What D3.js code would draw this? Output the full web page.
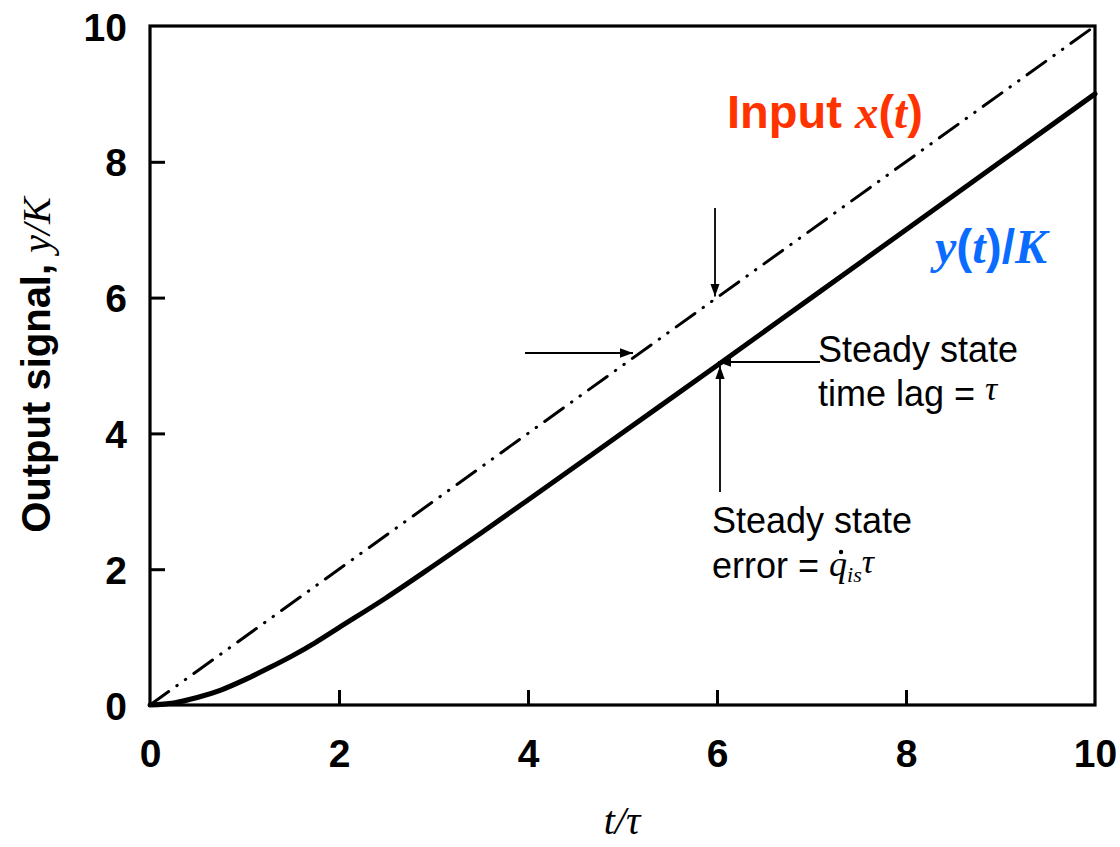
<!DOCTYPE html>
<html>
<head>
<meta charset="utf-8">
<script src="https://cdn.jsdelivr.net/npm/d3@7"></script>
<style>
  html, body { margin: 0; padding: 0; background: #fff; }
  svg { display: block; }
</style>
</head>
<body>
<svg id="chart" width="1120" height="847"></svg>
<script>
// Ramp response of a first-order system: normalised time t/tau
const timeValues = [0, 0.25, 0.5, 0.75, 1, 1.25, 1.5, 1.75, 2, 2.5, 3, 3.5, 4, 5, 6, 7, 8, 9, 10];
// Output y(t)/K
const outputValues = [0, 0.03, 0.11, 0.22, 0.37, 0.54, 0.72, 0.92, 1.14, 1.58, 2.05, 2.53, 3.02, 4.01, 5.0, 6.0, 7.0, 8.0, 9.0];
// Input ramp x(t)
const inputTimes = [0, 10];
const inputValues = [0, 10];
// Axis ticks
const xTickValues = [0, 2, 4, 6, 8, 10];
const yTickValues = [0, 2, 4, 6, 8, 10];

const svg = d3.select("#chart");
const margin = { left: 150, top: 26, right: 1120 - 1095, bottom: 847 - 705 };
const W = 1120, H = 847;

const x = d3.scaleLinear().domain([0, 10]).range([margin.left, W - margin.right]);
const y = d3.scaleLinear().domain([0, 10]).range([H - margin.bottom, margin.top]);

const tickFont = "'Liberation Sans', Arial, sans-serif";
const serif = "'Liberation Serif', 'Times New Roman', serif";

// Arrowhead marker
svg.append("defs").append("marker")
  .attr("id", "arrow")
  .attr("viewBox", "0 0 14 10")
  .attr("refX", 14).attr("refY", 5)
  .attr("markerWidth", 13).attr("markerHeight", 10)
  .attr("markerUnits", "userSpaceOnUse")
  .attr("orient", "auto")
  .append("path").attr("d", "M0,0 L14,5 L0,10 Z").attr("fill", "#000");

// Axes with inward ticks
const xAxis = d3.axisBottom(x).tickValues(xTickValues).tickSize(-15).tickPadding(0).tickFormat(d3.format("d"));
const yAxis = d3.axisLeft(y).tickValues(yTickValues).tickSize(-15).tickPadding(0).tickFormat(d3.format("d"));

const gx = svg.append("g").attr("transform", `translate(0,${y(0)})`).call(xAxis);
const gy = svg.append("g").attr("transform", `translate(${x(0)},0)`).call(yAxis);

[gx, gy].forEach(g => {
  g.select(".domain").remove();
  g.selectAll(".tick line").attr("stroke", "#000").attr("stroke-width", 3);
  g.selectAll(".tick text")
    .attr("font-family", tickFont).attr("font-weight", "bold")
    .attr("font-size", 39).attr("fill", "#000");
});
gx.selectAll(".tick text").attr("y", 0).attr("dy", 62);
gy.selectAll(".tick text").attr("x", -23).attr("dy", "0.36em");
// the frame already covers the end ticks
gx.selectAll(".tick").filter(d => d === 0 || d === 10).select("line").remove();
gy.selectAll(".tick").filter(d => d === 0 || d === 10).select("line").remove();

// Plot frame
svg.append("rect")
  .attr("x", x(0)).attr("y", y(10))
  .attr("width", x(10) - x(0)).attr("height", y(0) - y(10))
  .attr("fill", "none").attr("stroke", "#000").attr("stroke-width", 3.2);

// Input ramp (dash-dot-dot)
const inputData = inputTimes.map((t, i) => [t, inputValues[i]]);
svg.append("path")
  .datum(inputData)
  .attr("d", d3.line().x(d => x(d[0])).y(d => y(d[1])))
  .attr("fill", "none").attr("stroke", "#000")
  .attr("stroke-width", 3).attr("stroke-linecap", "round")
  .attr("stroke-dasharray", "23,10,0.5,10,0.5,10");

// Output response
const outputData = timeValues.map((t, i) => [t, outputValues[i]]);
svg.append("path")
  .datum(outputData)
  .attr("d", d3.line().x(d => x(d[0])).y(d => y(d[1])).curve(d3.curveMonotoneX))
  .attr("fill", "none").attr("stroke", "#000")
  .attr("stroke-width", 5).attr("stroke-linejoin", "round").attr("stroke-linecap", "round");

// Annotation arrows
function arrow(x1, y1, x2, y2) {
  svg.append("line")
    .attr("x1", x1).attr("y1", y1).attr("x2", x2).attr("y2", y2)
    .attr("stroke", "#000").attr("stroke-width", 1.8)
    .attr("marker-end", "url(#arrow)");
}
const tLag = 6;
// error arrow onto the input ramp at t = 6
arrow(x(tLag) - 2, 208, x(tLag) - 2, y(inputValues[1] / inputTimes[1] * tLag) - 1);
// lag arrow onto the input ramp
arrow(525, 353, 633, 353);
// lag arrow onto the output curve
arrow(820, 362, 718, 362);
// error arrow from below onto the output curve
arrow(720, 492, 720, 366);

// Series labels
const inLabel = svg.append("text")
  .attr("x", 727).attr("y", 128)
  .attr("fill", "#ff3300").attr("font-size", 47).attr("font-weight", "bold")
  .attr("font-family", tickFont);
inLabel.append("tspan").text("Input ");
inLabel.append("tspan").attr("font-family", serif).attr("font-style", "italic").text("x");
inLabel.append("tspan").text("(");
inLabel.append("tspan").attr("font-family", serif).attr("font-style", "italic").text("t");
inLabel.append("tspan").text(")");

const outLabel = svg.append("text")
  .attr("x", 935).attr("y", 263)
  .attr("fill", "#0a6cff").attr("font-size", 48).attr("font-weight", "bold")
  .attr("font-family", serif).attr("font-style", "italic");
outLabel.append("tspan").text("y");
outLabel.append("tspan").attr("font-family", tickFont).attr("font-style", "normal").text("(");
outLabel.append("tspan").text("t");
outLabel.append("tspan").attr("font-family", tickFont).attr("font-style", "normal").text(")/");
outLabel.append("tspan").text("K");

// Annotation text
const notes = svg.append("g").attr("font-family", tickFont).attr("font-size", 36).attr("fill", "#000");
notes.append("text").attr("x", 818).attr("y", 362).text("Steady state");
const lag2 = notes.append("text").attr("x", 818).attr("y", 406);
lag2.append("tspan").text("time lag = ");
lag2.append("tspan").attr("font-family", serif).attr("font-style", "italic").attr("font-size", 34).attr("dy", -6).text("τ");

notes.append("text").attr("x", 712).attr("y", 533).text("Steady state");
const err2 = notes.append("text").attr("x", 712).attr("y", 578);
err2.append("tspan").text("error = ");
err2.append("tspan").attr("font-family", serif).attr("font-style", "italic").attr("font-size", 36).attr("dy", -2).text("q");
err2.append("tspan").attr("font-family", serif).attr("font-style", "italic").attr("font-size", 22).attr("dy", 6).text("is");
err2.append("tspan").attr("font-family", serif).attr("font-style", "italic").attr("font-size", 34).attr("dy", -9).text("τ");

// time-derivative dot over q
const qIndex = "error = ".length;
const qStart = err2.node().getStartPositionOfChar(qIndex);
const qEnd = err2.node().getEndPositionOfChar(qIndex);
notes.append("circle")
  .attr("cx", (qStart.x + qEnd.x) / 2 + 3)
  .attr("cy", qStart.y - 24)
  .attr("r", 2.2).attr("fill", "#000");

// Axis titles
svg.append("text")
  .attr("x", 622).attr("y", 834).attr("text-anchor", "middle")
  .attr("font-family", serif).attr("font-style", "italic").attr("font-size", 40)
  .text("t/τ");

const yTitle = svg.append("text")
  .attr("transform", "translate(50,365) rotate(-90)")
  .attr("text-anchor", "middle")
  .attr("font-family", tickFont).attr("font-weight", "bold").attr("font-size", 40);
yTitle.append("tspan").text("Output signal, ");
yTitle.append("tspan").attr("font-family", serif).attr("font-weight", "normal").attr("font-style", "italic").text("y/K");
</script>
</body>
</html>
